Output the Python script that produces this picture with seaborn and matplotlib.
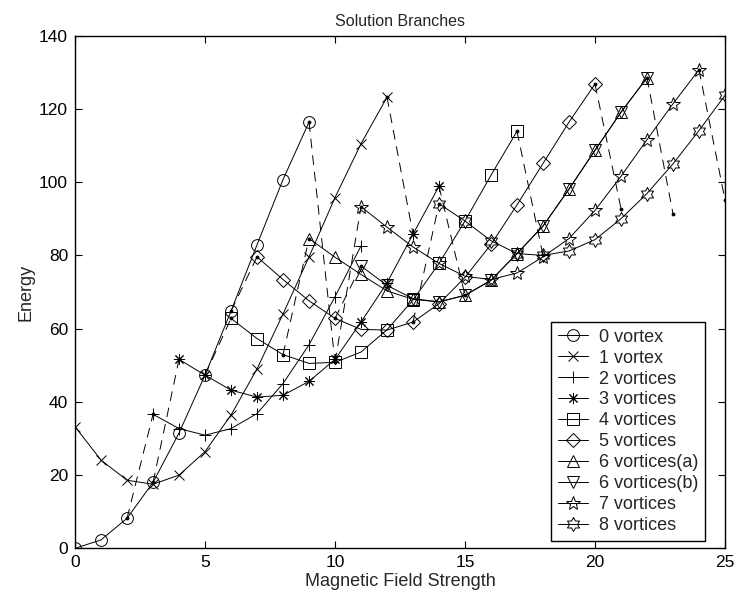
import numpy as np
import matplotlib
matplotlib.use("Agg")
import matplotlib.pyplot as plt
import seaborn as sns

# Energy of each solution branch against the applied field
b0 = [0, 1, 2, 3, 4, 5, 6, 7, 8, 9]
e0 = [0, 2.3, 8.2, 18.0, 31.5, 47.3, 64.8, 82.9, 100.7, 116.4]

b1 = [0, 1, 2, 3, 4, 5, 6, 7, 8, 9, 10, 11, 12]
e1 = [33.2, 24.1, 18.6, 17.5, 20.0, 26.4, 36.4, 49.0, 64.0, 79.6, 95.8, 110.5, 123.2]

b2 = [3, 4, 5, 6, 7, 8, 9, 10, 11]
e2 = [36.6, 32.7, 30.9, 32.7, 36.8, 45.0, 55.6, 68.7, 82.6]

b3 = [4, 5, 6, 7, 8, 9, 10, 11, 12, 13, 14]
e3 = [51.6, 47.3, 43.2, 41.3, 41.8, 45.6, 51.6, 61.8, 72.5, 85.8, 98.9]

b4 = [6, 7, 8, 9, 10, 11, 12, 13, 14, 15, 16, 17]
e4 = [62.8, 57.3, 52.9, 50.5, 50.8, 53.6, 59.7, 67.8, 77.8, 89.4, 101.9, 113.9]

b5 = [7, 8, 9, 10, 11, 12, 13, 14, 15, 16, 17, 18, 19, 20]
e5 = [79.6, 73.4, 67.6, 62.8, 59.8, 59.6, 61.8, 66.8, 74.0, 83.0, 93.8, 105.1, 116.4, 126.8]

b6a = [9, 10, 11, 12, 13, 14, 15, 16, 17, 18, 19, 20, 21, 22]
e6a = [84.6, 79.5, 74.8, 70.3, 68.0, 67.3, 69.1, 73.2, 80.5, 88.0, 98.1, 108.7, 119.1, 128.5]

b6b = [11, 12, 13, 14, 15, 16, 17, 18, 19, 20, 21, 22]
e6b = [77.1, 71.8, 68.2, 67.3, 69.1, 73.2, 80.5, 88.0, 98.1, 108.7, 119.1, 128.5]

b7 = [11, 12, 13, 14, 15, 16, 17, 18, 19, 20, 21, 22, 23, 24]
e7 = [93.3, 87.7, 82.3, 77.8, 74.3, 73.4, 75.2, 79.6, 84.6, 92.3, 101.6, 111.6, 121.4, 130.7]

b8 = [14, 15, 16, 17, 18, 19, 20, 21, 22, 23, 24, 25]
e8 = [94.1, 89.4, 84.0, 80.5, 80.0, 81.2, 84.3, 90.0, 96.9, 105.0, 114.1, 123.7]

labels = ["0 vortex", "1 vortex", "2 vortices", "3 vortices", "4 vortices",
          "5 vortices", "6 vortices(a)", "6 vortices(b)", "7 vortices", "8 vortices"]

# Transitions between branches (field, energy) -> (field, energy)
jump_b0 = [2, 3, 5, 6, 9, 12, 14, 17, 20, 22, 24, 8, 10, 10, 13]
jump_e0 = [8.2, 18.0, 47.3, 64.8, 116.4, 123.2, 98.9, 113.9, 126.8, 128.5, 130.7, 52.9, 62.8, 50.8, 61.8]
jump_b1 = [3, 4, 6, 7, 10, 13, 15, 18, 21, 23, 25, 9, 11, 11, 14]
jump_e1 = [36.6, 51.6, 62.8, 79.6, 50.8, 85.8, 69.1, 80.0, 92.8, 91.4, 95.2, 84.6, 77.1, 93.3, 94.1]

# Six-pointed star outline
ang_out = np.deg2rad(90 + 60 * np.arange(6))
ang_in = ang_out + np.deg2rad(30)
hexagram = []
for ao, ai in zip(ang_out, ang_in):
    hexagram.append((np.cos(ao), np.sin(ao)))
    hexagram.append((np.cos(ai) / np.sqrt(3), np.sin(ai) / np.sqrt(3)))
hexagram.append(hexagram[0])

series = [
    (b0, e0, "o", 8.5),
    (b1, e1, "x", 7),
    (b2, e2, "+", 9),
    (b3, e3, (8, 2, 0), 8),
    (b4, e4, "s", 8),
    (b5, e5, "D", 7),
    (b6a, e6a, "^", 9),
    (b6b, e6b, "v", 9),
    (b7, e7, "*", 10),
    (b8, e8, hexagram, 10),
]

sns.set_theme(style="white")
plt.rcParams["font.family"] = ["Liberation Sans", "DejaVu Sans"]
plt.rcParams["lines.scale_dashes"] = False

fig = plt.figure(figsize=(7.37, 5.99), dpi=100)
ax = fig.add_axes([0.1018, 0.0846, 0.8819, 0.8558])

for i, (bx, ey, mk, ms) in enumerate(series):
    sns.lineplot(x=bx, y=ey, ax=ax, color="black", lw=0.7, marker=mk, ms=ms,
                 mfc="none", mec="black", mew=0.7, sort=False, estimator=None,
                 label=labels[i])

for xa, ya, xb, yb in zip(jump_b0, jump_e0, jump_b1, jump_e1):
    sns.lineplot(x=[xa, xb], y=[ya, yb], ax=ax, color="black", lw=0.7,
                 dashes=False, linestyle=(0, (7, 5)), marker=".", ms=4,
                 mec="black", mfc="black", sort=False, estimator=None,
                 legend=False)

ax.set_xlim(0, 25)
ax.set_ylim(0, 140)
ax.set_xticks([0, 5, 10, 15, 20, 25])
ax.set_yticks([0, 20, 40, 60, 80, 100, 120, 140])
ax.tick_params(direction="in", length=5, width=0.8, labelsize=12.5,
               top=True, right=True, bottom=True, left=True, colors="black",
               pad=5)
for sp in ax.spines.values():
    sp.set_visible(True)
    sp.set_color("black")
    sp.set_linewidth(1.0)

ax.set_title("Solution Branches", fontsize=11.5, pad=7)
ax.set_xlabel("Magnetic Field Strength", fontsize=13, labelpad=2)
ax.set_ylabel("Energy", fontsize=13, labelpad=3)

leg = ax.legend(loc="lower right", bbox_to_anchor=(0.969, 0.015), fontsize=13,
                frameon=True, fancybox=False, framealpha=1, edgecolor="black",
                handlelength=1.7, handletextpad=0.6, labelspacing=0.22,
                borderpad=0.35, borderaxespad=0)
leg.get_frame().set_linewidth(1.0)

fig.savefig("out.png", dpi=100, facecolor="white")
